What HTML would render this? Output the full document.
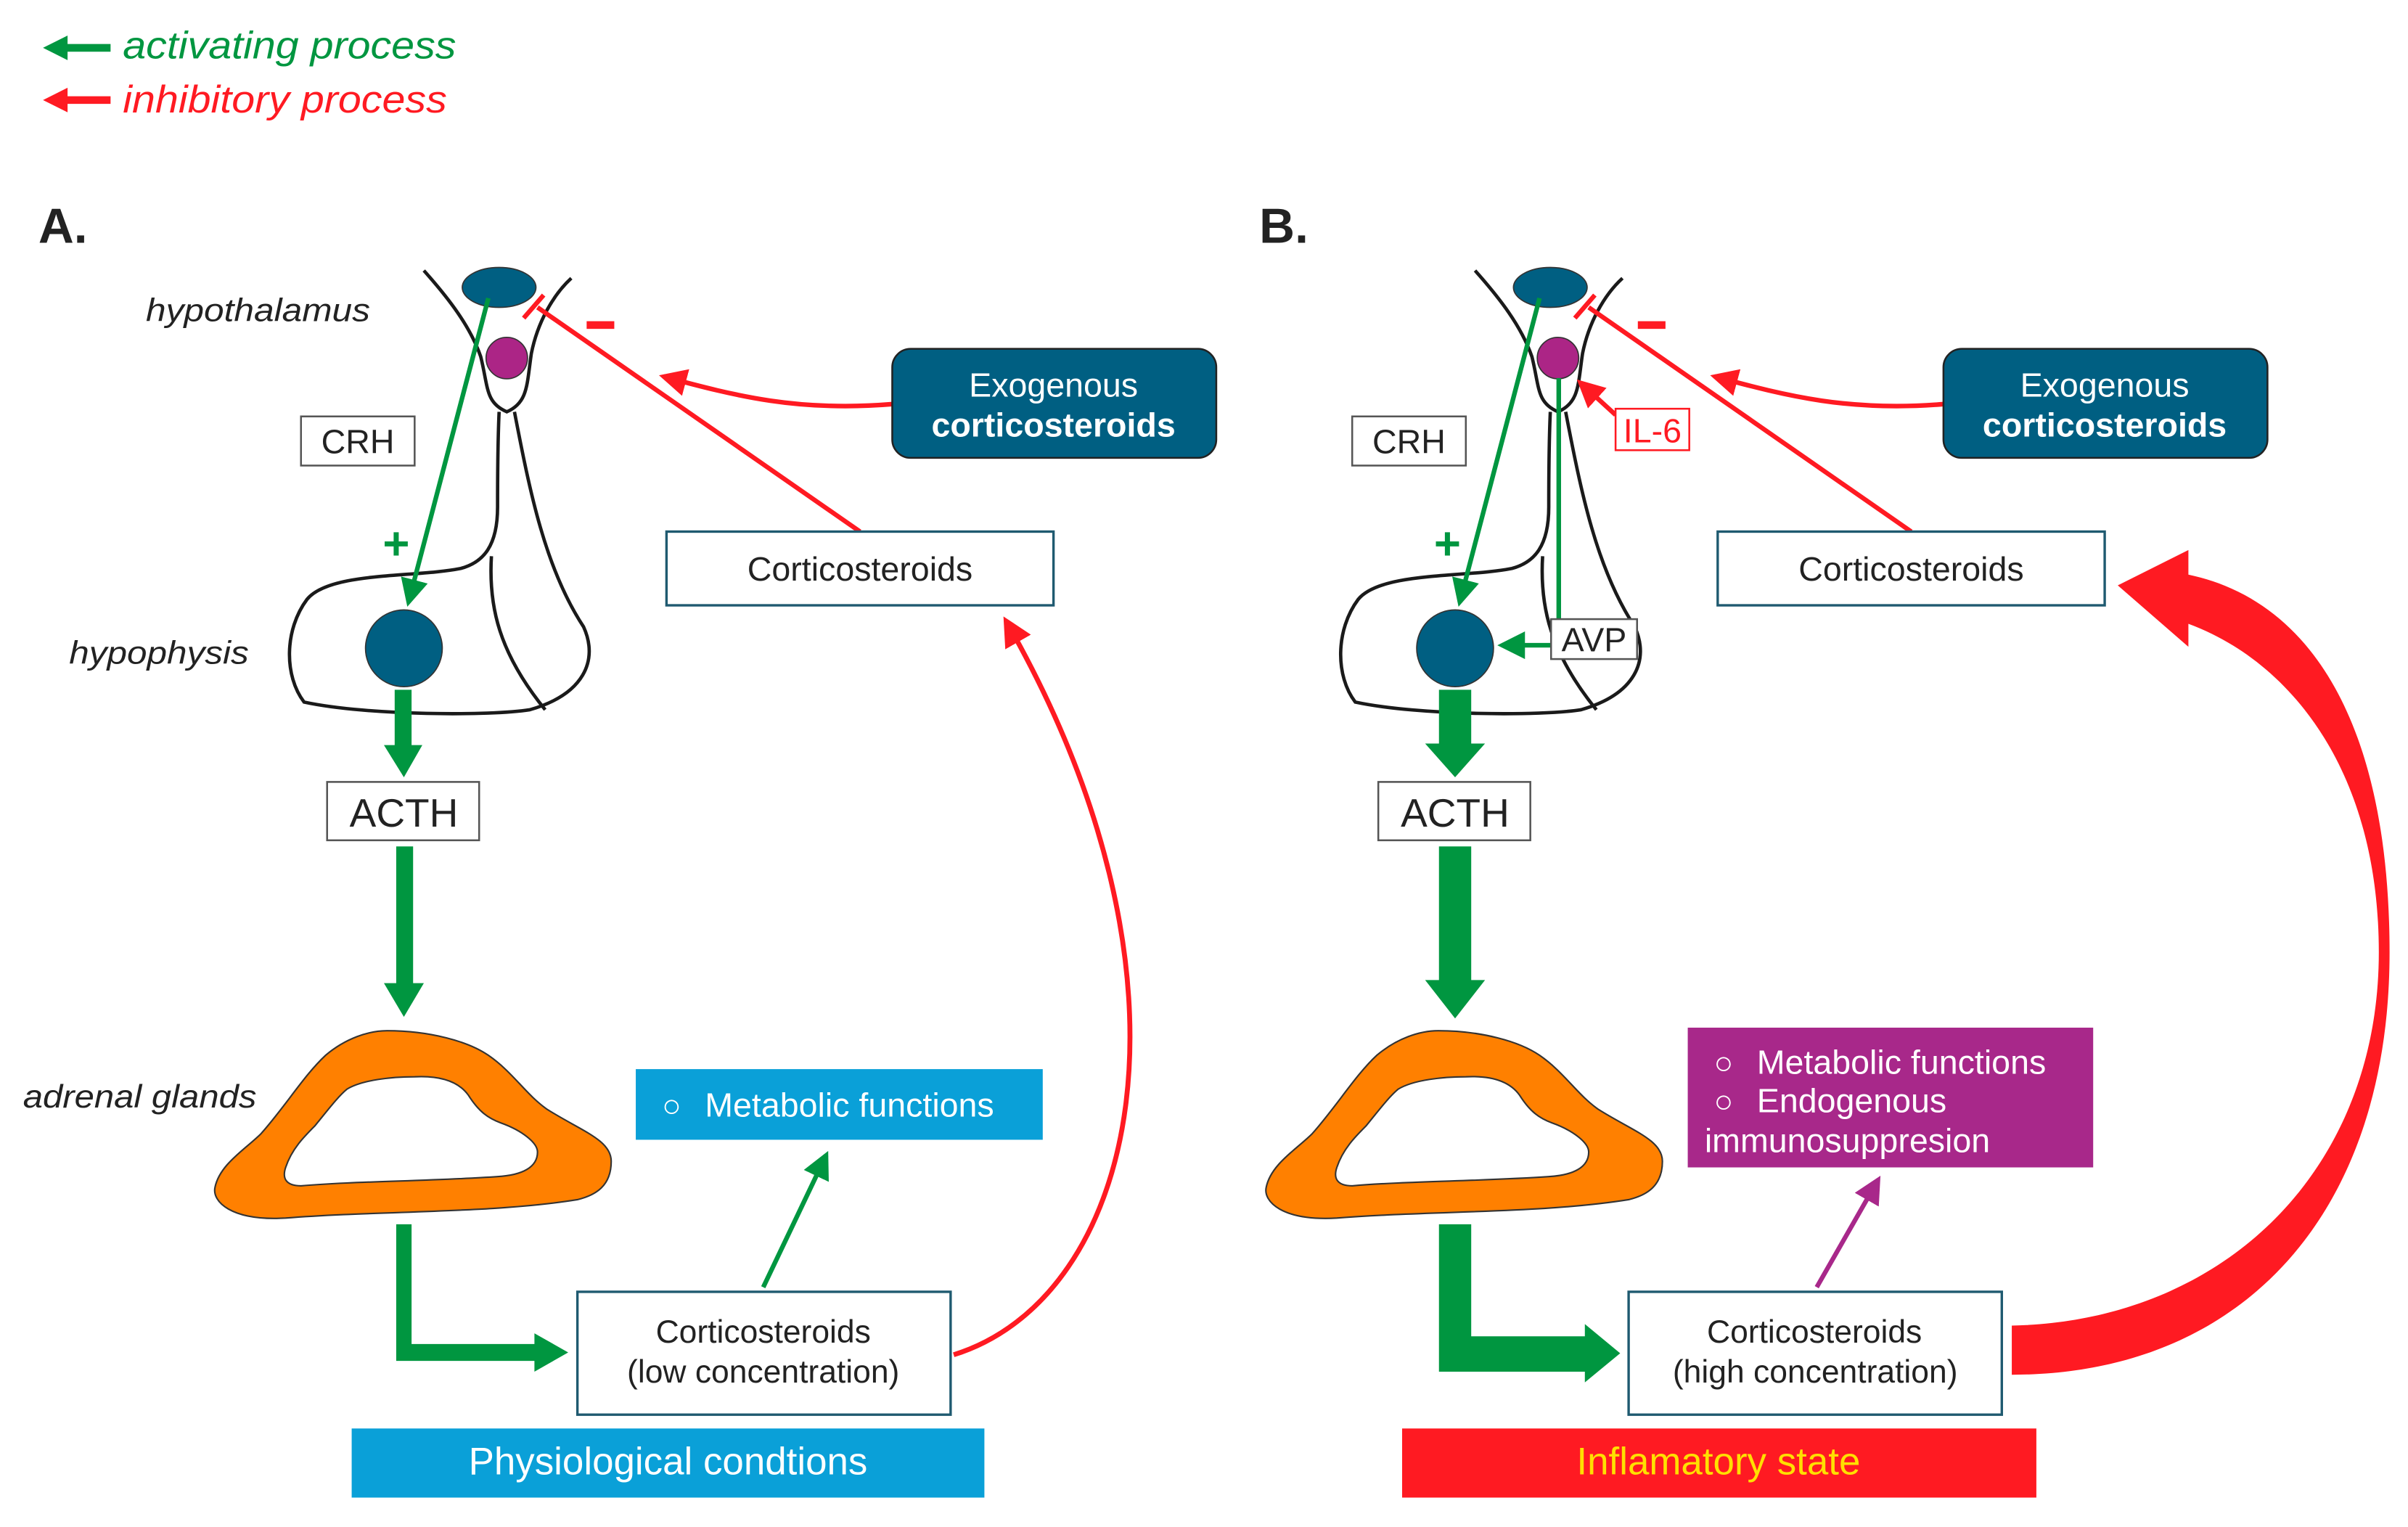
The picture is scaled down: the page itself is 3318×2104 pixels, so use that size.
<!DOCTYPE html>
<html><head><meta charset="utf-8"><style>
html,body{margin:0;padding:0;background:#fff;}
svg{display:block;}
text{font-family:"Liberation Sans",Arial,sans-serif;}
</style></head><body>
<svg width="3318" height="2104" viewBox="0 0 1568 994" xmlns="http://www.w3.org/2000/svg">
<defs>
<marker id="ga" markerWidth="6" markerHeight="6" refX="5" refY="3" orient="auto" markerUnits="strokeWidth"><path d="M0,0 L6,3 L0,6 Z" fill="#009640"/></marker>
<marker id="ra" markerWidth="6" markerHeight="6" refX="5" refY="3" orient="auto" markerUnits="strokeWidth"><path d="M0,0 L6,3 L0,6 Z" fill="#ff1a22"/></marker>
<marker id="pa" markerWidth="6" markerHeight="6" refX="5" refY="3" orient="auto" markerUnits="strokeWidth"><path d="M0,0 L6,3 L0,6 Z" fill="#a8288a"/></marker>
<g id="common">
  <path d="M276,176 C292,194 306,212 313,232 C318,252 316,262 330,268 C344,262 343,250 346,230 C350,210 360,192 372,181" fill="none" stroke="#1a1a1a" stroke-width="2.2"/>
  <path d="M325,268 C324,290 324,310 324,330 C324,355 315,366 300,370 C270,376 215,372 200,390 C185,410 185,440 198,457 C240,466 320,466 345,462 C380,452 390,430 380,408 C355,370 345,320 335,268" fill="none" stroke="#1a1a1a" stroke-width="2.2"/>
  <path d="M320,362 C318,395 325,425 355,462" fill="none" stroke="#1a1a1a" stroke-width="2.2"/>
  <ellipse cx="325" cy="187" rx="24" ry="13" fill="#005f82" stroke="#333" stroke-width="0.8"/>
  <circle cx="330" cy="233" r="13.5" fill="#ac2586" stroke="#333" stroke-width="0.8"/>
  <circle cx="263" cy="422" r="25" fill="#005f82" stroke="#333" stroke-width="0.8"/>
  <line x1="318" y1="194" x2="266" y2="392" stroke="#009640" stroke-width="3" marker-end="url(#ga)"/>
  <text x="258" y="364" font-size="30" font-weight="bold" fill="#009640" text-anchor="middle">+</text>
  <rect x="196" y="271" width="74" height="32" fill="#fff" stroke="#555" stroke-width="1.2"/>
  <text x="233" y="295" font-size="22" fill="#222" text-anchor="middle">CRH</text>
  <line x1="560" y1="346" x2="350" y2="200" stroke="#ff1a22" stroke-width="3"/>
  <line x1="341" y1="207" x2="354" y2="192" stroke="#ff1a22" stroke-width="3"/>
  <rect x="382" y="209" width="18" height="5" fill="#ff1a22"/>
  <path d="M581,263 C520,268 480,258 432,245" fill="none" stroke="#ff1a22" stroke-width="3" marker-end="url(#ra)"/>
  <rect x="581" y="227" width="211" height="71" rx="12" fill="#005f82" stroke="#222" stroke-width="1.2"/>
  <text x="686" y="258" font-size="22" fill="#fff" text-anchor="middle">Exogenous</text>
  <text x="686" y="284" font-size="22" font-weight="bold" fill="#fff" text-anchor="middle">corticosteroids</text>
  <rect x="434" y="346" width="252" height="48" fill="#fff" stroke="#1f5a70" stroke-width="1.6"/>
  <text x="560" y="378" font-size="22" fill="#222" text-anchor="middle">Corticosteroids</text>
  <rect x="213" y="509" width="99" height="38" fill="#fff" stroke="#555" stroke-width="1.2"/>
  <text x="263" y="538" font-size="26" fill="#222" text-anchor="middle">ACTH</text>
  <path d="M252,671 C280,671 305,678 318,687 C334,698 342,712 356,722 C378,736 398,742 398,756 C398,772 388,778 376,781 C320,790 250,788 186,793 C150,795 138,782 140,773 C143,758 160,748 170,738 C186,720 198,700 212,687 C225,676 240,671 252,671 Z" fill="#ff8000" stroke="#333" stroke-width="1"/>
  <path d="M270,701 C290,700 300,706 305,713 C312,724 318,728 326,731 C340,736 350,744 350,750 C350,760 340,765 324,766 C280,769 230,769 196,772 C185,772 184,766 186,760 C190,748 198,740 205,733 C214,722 220,714 226,709 C236,703 255,701 270,701 Z" fill="#fff" stroke="#333" stroke-width="1"/>
  <rect x="376" y="841" width="243" height="80" fill="#fff" stroke="#1f5a70" stroke-width="1.6"/>
  <text x="497" y="874" font-size="21" fill="#222" text-anchor="middle">Corticosteroids</text>
</g>
</defs>

<line x1="72" y1="31" x2="40" y2="31" stroke="#009640" stroke-width="5"/>
<path d="M28,31 L44,23 L44,39 Z" fill="#009640"/>
<text x="80" y="38" font-size="25" font-style="italic" fill="#009640" textLength="217" lengthAdjust="spacingAndGlyphs">activating process</text>
<line x1="72" y1="65" x2="40" y2="65" stroke="#ff1a22" stroke-width="5"/>
<path d="M28,65 L44,57 L44,73 Z" fill="#ff1a22"/>
<text x="80" y="73" font-size="25" font-style="italic" fill="#ff1a22" textLength="211" lengthAdjust="spacingAndGlyphs">inhibitory process</text>

<text x="25" y="158" font-size="32" font-weight="bold" fill="#222">A.</text>
<text x="820" y="158" font-size="32" font-weight="bold" fill="#222">B.</text>

<text x="95" y="209" font-size="21" font-style="italic" fill="#222" textLength="146" lengthAdjust="spacingAndGlyphs">hypothalamus</text>
<text x="45" y="432" font-size="21" font-style="italic" fill="#222" textLength="117" lengthAdjust="spacingAndGlyphs">hypophysis</text>
<text x="15" y="721" font-size="21" font-style="italic" fill="#222" textLength="152" lengthAdjust="spacingAndGlyphs">adrenal glands</text>

<use href="#common"/>
<text x="497" y="900" font-size="21" fill="#222" text-anchor="middle">(low concentration)</text>
<rect x="257" y="449" width="11" height="38" fill="#009640"/>
<path d="M250,485 L275,485 L263,506 Z" fill="#009640"/>
<rect x="258" y="551" width="11" height="92" fill="#009640"/>
<path d="M250,640 L276,640 L263,662 Z" fill="#009640"/>
<path d="M258,797 L268,797 L268,875 L348,875 L348,868 L370,880.5 L348,893 L348,886 L258,886 Z" fill="#009640"/>
<line x1="497" y1="838" x2="538" y2="752" stroke="#009640" stroke-width="3" marker-end="url(#ga)"/>
<rect x="414" y="696" width="265" height="46" fill="#0aa0d8"/>
<text x="431" y="727" font-size="21" fill="#fff">○</text>
<text x="459" y="727" font-size="22" fill="#fff">Metabolic functions</text>
<rect x="229" y="930" width="412" height="45" fill="#0aa0d8"/>
<text x="435" y="960" font-size="25" fill="#fff" text-anchor="middle">Physiological condtions</text>
<path d="M621,882 C740,845 790,640 655,404" fill="none" stroke="#ff1a22" stroke-width="3.2" marker-end="url(#ra)"/>

<use href="#common" transform="translate(684.5,0)"/>
<text x="1182" y="900" font-size="21" fill="#222" text-anchor="middle">(high concentration)</text>
<line x1="1015" y1="246" x2="1015" y2="404" stroke="#009640" stroke-width="3"/>
<line x1="1010" y1="420" x2="978" y2="420" stroke="#009640" stroke-width="3" marker-end="url(#ga)"/>
<rect x="1010" y="403" width="56" height="26" fill="#fff" stroke="#555" stroke-width="1.2"/>
<text x="1038" y="424" font-size="22" fill="#222" text-anchor="middle">AVP</text>
<line x1="1052" y1="270" x2="1029" y2="249" stroke="#ff1a22" stroke-width="3" marker-end="url(#ra)"/>
<rect x="1052" y="266" width="48" height="27" fill="#fff" stroke="#ff1a22" stroke-width="1.2"/>
<text x="1076" y="288" font-size="22" fill="#ff1a22" text-anchor="middle">IL-6</text>
<rect x="937" y="449" width="21" height="38" fill="#009640"/>
<path d="M928,484 L967,484 L947.5,506 Z" fill="#009640"/>
<rect x="937" y="551" width="21" height="90" fill="#009640"/>
<path d="M928,638 L967,638 L947.5,663 Z" fill="#009640"/>
<path d="M937,797 L958,797 L958,870 L1032,870 L1032,862 L1055,881 L1032,900 L1032,893 L937,893 Z" fill="#009640"/>
<line x1="1183" y1="838" x2="1223" y2="768" stroke="#a8288a" stroke-width="3" marker-end="url(#pa)"/>
<rect x="1099" y="669" width="264" height="91" fill="#a8288a"/>
<text x="1116" y="699" font-size="21" fill="#fff">○</text>
<text x="1144" y="699" font-size="22" fill="#fff">Metabolic functions</text>
<text x="1116" y="724" font-size="21" fill="#fff">○</text>
<text x="1144" y="724" font-size="22" fill="#fff">Endogenous</text>
<text x="1110" y="750" font-size="22" fill="#fff">immunosuppresion</text>
<rect x="913" y="930" width="413" height="45" fill="#ff1a22"/>
<text x="1119" y="960" font-size="25" fill="#ffe000" text-anchor="middle">Inflamatory state</text>
<path d="M1425,374 C1510,392 1556,480 1556,620 C1556,790 1460,895 1310,895 L1310,863 C1450,860 1549,760 1549,620 C1549,500 1490,430 1425,406 L1425,421 L1379,381 L1425,358 Z" fill="#ff1a22"/>
</svg>
</body></html>
